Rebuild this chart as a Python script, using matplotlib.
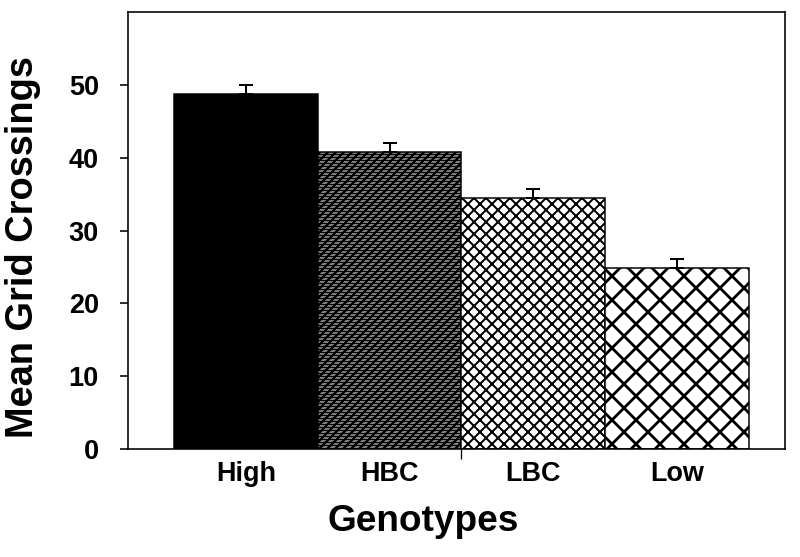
import matplotlib
matplotlib.use("Agg")
import matplotlib.pyplot as plt
import numpy as np

genotypes = ["High", "HBC", "LBC", "Low"]
means = [48.8, 40.8, 34.5, 24.8]
sems = [1.2, 1.2, 1.2, 1.3]
hatches = [None, "///----", "xx", "x"]
hatch_widths = [1.0, 2.0, 2.0, 2.8]

plt.rcParams['font.family'] = ['Liberation Sans', 'DejaVu Sans']
plt.rcParams['font.weight'] = 'bold'

DPI = 72
fig = plt.figure(figsize=(800 / DPI, 557 / DPI), dpi=DPI)
ax = fig.add_axes([0.16, 0.194, 0.821, 0.784])

x = np.arange(len(genotypes))
for i, (m, h, hw) in enumerate(zip(means, hatches, hatch_widths)):
    with plt.rc_context({'hatch.linewidth': hw}):
        if h is None:
            ax.bar(x[i], m, width=1.0, color='black', edgecolor='black', linewidth=1.5)
        else:
            ax.bar(x[i], m, width=1.0, color='white', edgecolor='black',
                   hatch=h, linewidth=1.5)

ax.errorbar(x, means, yerr=[np.zeros(len(sems)), sems], fmt='none',
            ecolor='black', elinewidth=2, capsize=7, capthick=2)

ax.set_xlim(-0.82, 3.75)
ax.set_ylim(0, 60)
ax.set_yticks([0, 10, 20, 30, 40, 50])
ax.tick_params(axis='y', direction='out', length=8, width=1.6, pad=21, labelsize=27)
ax.set_xticks(x)
ax.set_xticklabels(genotypes)
ax.tick_params(axis='x', which='major', length=0, pad=12, labelsize=27)
ax.set_xticks([1.5], minor=True)
ax.tick_params(axis='x', which='minor', direction='out', length=10, width=1.3)

for s in ax.spines.values():
    s.set_linewidth(1.6)

ax.set_ylabel("Mean Grid Crossings", fontsize=38, fontweight='bold')
ax.yaxis.set_label_coords(-0.132, 0.462)
ax.set_xlabel("Genotypes", fontsize=37, fontweight='bold')
ax.xaxis.set_label_coords(0.45, -0.126)

fig.savefig("out.png", dpi=DPI)
